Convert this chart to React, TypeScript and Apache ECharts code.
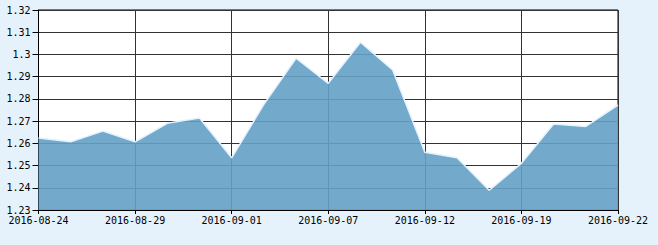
import React, { useEffect, useRef } from "react";
import * as echarts from "echarts";

const categories = [
  "2016-08-24", "2016-08-25", "2016-08-26", "2016-08-29", "2016-08-30", "2016-08-31",
  "2016-09-01", "2016-09-02", "2016-09-05", "2016-09-07", "2016-09-08", "2016-09-09",
  "2016-09-12", "2016-09-13", "2016-09-14", "2016-09-19", "2016-09-20", "2016-09-21",
  "2016-09-22",
];
const values = [
  1.2624, 1.2607, 1.2655, 1.2607, 1.269, 1.2714,
  1.2535, 1.2775, 1.2983, 1.287, 1.3055, 1.293,
  1.256, 1.2535, 1.2389, 1.251, 1.2687, 1.2676,
  1.2772,
];
const yMin = 1.23;
const yMax = 1.32;
const yStep = 0.01;

export default function App() {
  const ref = useRef<HTMLDivElement>(null);
  useEffect(() => {
    const chart = echarts.init(ref.current!, null, { renderer: "svg" });
    const font = "'DejaVu Sans Mono', monospace";
    chart.setOption({
      animation: false,
      backgroundColor: "#e6f2fb",
      grid: {
        left: 38.5,
        right: 40,
        top: 10,
        bottom: 35,
        show: true,
        backgroundColor: "#ffffff",
        borderColor: "#000000",
        borderWidth: 1,
      },
      xAxis: {
        type: "category",
        data: categories,
        boundaryGap: false,
        axisLine: { lineStyle: { color: "#000", width: 1 } },
        axisTick: { show: true, length: 4, interval: 2, lineStyle: { color: "#000" } },
        axisLabel: {
          interval: 2,
          margin: 5,
          color: "#000",
          fontSize: 10,
          fontFamily: font,
          showMaxLabel: true,
        },
        splitLine: { show: true, interval: 2, lineStyle: { color: "#333", width: 1 } },
      },
      yAxis: {
        type: "value",
        min: yMin,
        max: yMax,
        interval: yStep,
        axisLine: { show: true, lineStyle: { color: "#000", width: 1 } },
        axisTick: { show: true, length: 6, lineStyle: { color: "#000" } },
        axisLabel: {
          margin: 8,
          color: "#000",
          fontSize: 10,
          fontFamily: font,
          formatter: (v: number) => String(parseFloat(v.toFixed(2))),
        },
        splitLine: { show: true, lineStyle: { color: "#333", width: 1 } },
      },
      series: [
        {
          type: "line",
          data: values,
          symbol: "none",
          lineStyle: { color: "#e4f2ff", width: 1.5 },
          areaStyle: { color: "rgb(100,160,196)", opacity: 0.9, origin: "start" },
        },
      ],
    });
    return () => chart.dispose();
  }, []);
  return <div ref={ref} style={{ width: 658, height: 245, position: "absolute", left: 0, top: 0 }} />;
}
